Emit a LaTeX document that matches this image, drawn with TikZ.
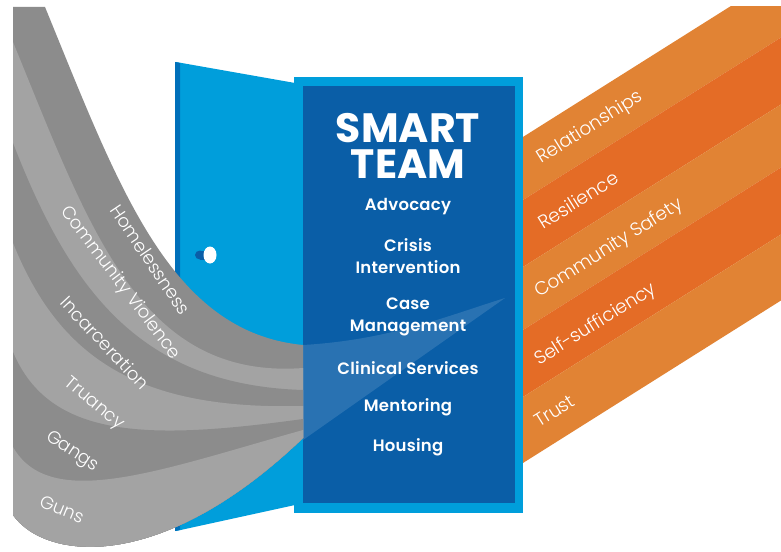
\documentclass[tikz,border=0pt]{standalone}
\usepackage{fontspec}
\setmainfont{Poppins}
\IfFontExistsTF{Poppins Light}{\newfontfamily\lblfont{Poppins Light}}{\newfontfamily\lblfont{Poppins}}
\IfFontExistsTF{Poppins SemiBold}{\newfontfamily\itemfont{Poppins SemiBold}[LetterSpace=1.5]}{\newfontfamily\itemfont{Poppins}[UprightFont=*-Bold]}
\newfontfamily\headfont{Poppins}
\definecolor{doorblue}{RGB}{0,158,219}
\definecolor{innerblue}{RGB}{10,94,167}
\definecolor{stripblue}{RGB}{0,112,186}
\definecolor{graydark}{RGB}{140,140,140}
\definecolor{graylight}{RGB}{163,163,163}
\definecolor{orlight}{RGB}{225,131,52}
\definecolor{ordark}{RGB}{228,108,38}
\tikzset{
  graylbl/.style={text=white, inner sep=0pt, font=\lblfont\fontsize{18}{18}\selectfont},
  orlbl/.style={text=white, inner sep=0pt, anchor=base west, rotate=32, font=\lblfont\fontsize{18.5}{18.5}\selectfont},
  boxitem/.style={text=white, inner sep=0pt, align=center, font=\itemfont\fontsize{16.5}{22}\selectfont},
  boxhead/.style={text=white, inner sep=0pt, align=center, font=\headfont\bfseries\fontsize{41}{36}\selectfont}
}
\begin{document}
\begin{tikzpicture}[x=1pt,y=-1pt]
\path[use as bounding box, fill=white] (0,0) rectangle (781,551);
% orange bands
\begin{scope}
\clip (515,7) rectangle (781,551);
\foreach \a/\b/\c in {137/200/orlight,200/267/ordark,267/330/orlight,330/397/ordark,397/463/orlight}{
  \fill[\c] (515,\a+5) -- (800,\a-174.5) -- (800,\b-174.5) -- (515,\b+5) -- cycle;
}
\end{scope}
% door
\fill[doorblue] (176,62) -- (295,83) -- (295,505) -- (176,531) -- cycle;
\fill[stripblue] (175,62) -- (180,63) -- (180,530) -- (175,531) -- cycle;
% knob
\fill[innerblue] (200,255) ellipse [x radius=5, y radius=4.5];
\fill[innerblue] (200,250.5) rectangle (209,259.5);
\fill[white] (210,255) ellipse [x radius=6.5, y radius=8.5];
% box
\node[fill=doorblue, minimum width=229pt, minimum height=436pt, inner sep=0pt, anchor=north west] (frame) at (294,77) {};
\node[fill=innerblue, minimum width=212pt, minimum height=417pt, inner sep=0pt, anchor=north west] (inner) at (303,86) {};
% gray bands
\begin{scope}
\clip (0,0) rectangle (303,551);
\fill[graydark] (45,7) .. controls (120,190) and (170,332) .. (303,345) -- (303,438) .. controls (160,575) and (45,560) .. (13,515) -- (13,7) -- cycle;
\fill[graylight] (13,42) .. controls (90,230) and (140,380) .. (303,368) -- (303,438) .. controls (160,575) and (45,560) .. (13,515) -- cycle;
\fill[graydark] (13,143) .. controls (70,290) and (140,385) .. (303,390) -- (303,438) .. controls (160,575) and (45,560) .. (13,515) -- cycle;
\fill[graylight] (13,243) .. controls (60,360) and (140,410) .. (303,406) -- (303,438) .. controls (160,575) and (45,560) .. (13,515) -- cycle;
\fill[graydark] (13,352) .. controls (50,440) and (150,440) .. (303,419) -- (303,438) .. controls (160,575) and (45,560) .. (13,515) -- cycle;
\fill[graylight] (13,447) .. controls (50,512) and (160,470) .. (303,430) -- (303,438) .. controls (160,575) and (45,560) .. (13,515) -- cycle;
\end{scope}
% translucent overlay in the box
\fill[white, opacity=0.13] (303,345) .. controls (390,340) and (450,315) .. (505,298) -- (303,440) -- cycle;
% gray labels
\node[graylbl, rotate=-56] (homeless) at (150.5,259.5) {Homelessness};
\node[graylbl, rotate=-53] (violence) at (120,283) {Community Violence};
\node[graylbl, rotate=-47] (incarc) at (105,343) {Incarceration};
\node[graylbl, rotate=-40] (truancy) at (94,404) {Truancy};
\node[graylbl, rotate=-33] (gangs) at (72,452) {Gangs};
\node[graylbl, rotate=-22] (guns) at (62,509) {Guns};
% orange labels
\node[orlbl] (rel) at (541,164) {Relationships};
\node[orlbl] (res) at (543,230) {Resilience};
\node[orlbl] (safety) at (539,298) {Community Safety};
\node[orlbl] (selfsuf) at (539,366) {Self-sufficiency};
\node[orlbl] (trust) at (539,428) {Trust};
% box text
\node[boxhead] (smart) at (408,146) {SMART\\TEAM};
\node[boxitem] (adv) at (408,207) {Advocacy};
\node[boxitem] (crisis) at (408,256) {Crisis\\Intervention};
\node[boxitem] (case) at (408,317) {Case\\Management};
\node[boxitem] (clin) at (408,368) {Clinical Services};
\node[boxitem] (ment) at (408,407) {Mentoring};
\node[boxitem] (house) at (408,447) {Housing};
\end{tikzpicture}
\end{document}
